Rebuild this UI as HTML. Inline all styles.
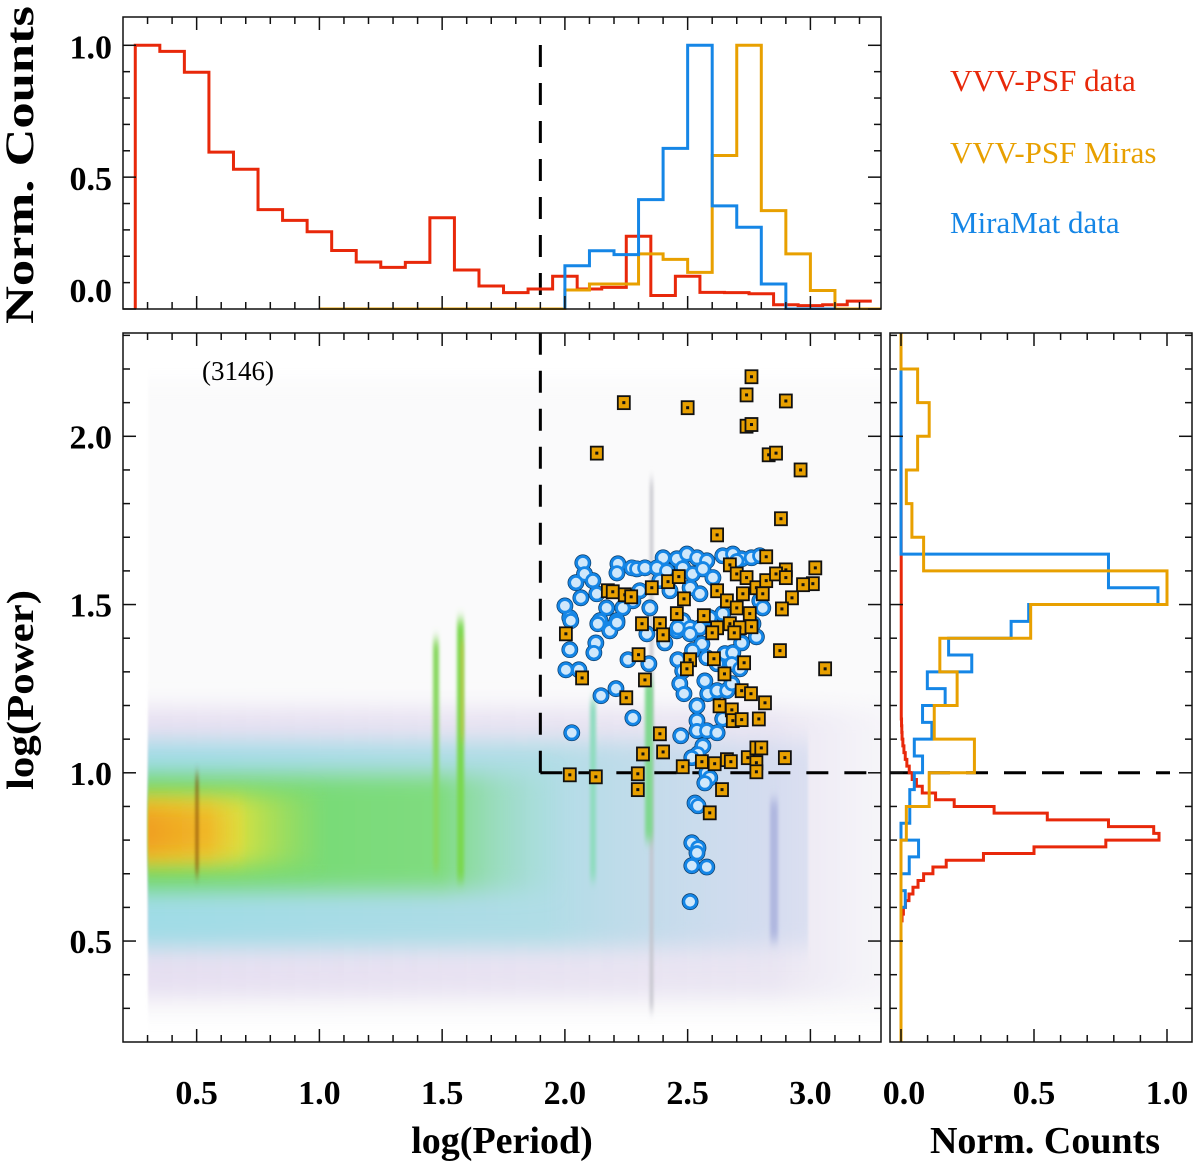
<!DOCTYPE html>
<html><head><meta charset="utf-8"><style>
html,body{margin:0;padding:0;background:#fff;}
svg{display:block;font-family:"Liberation Serif",serif;font-weight:bold;}
</style></head><body>
<svg id="chart" width="1200" height="1173" viewBox="0 0 1200 1173">
<defs>
<clipPath id="mainClip"><rect x="123" y="333" width="758" height="709"/></clipPath>
<clipPath id="topClip"><rect x="123" y="17" width="758" height="293"/></clipPath>
<clipPath id="rightClip"><rect x="890" y="333" width="302" height="709"/></clipPath>
<filter id="blurV" filterUnits="userSpaceOnUse" x="100" y="300" width="820" height="760"><feGaussianBlur stdDeviation="1 11"/></filter>
<filter id="blurS" filterUnits="userSpaceOnUse" x="100" y="300" width="820" height="760"><feGaussianBlur stdDeviation="1.5 6"/></filter>
<linearGradient id="gLav" x1="0" x2="1" y1="0" y2="0"><stop offset="0" stop-color="#e4dcf0" stop-opacity="0.9"/><stop offset="0.85" stop-color="#e6e0f0" stop-opacity="0.8"/><stop offset="1" stop-color="#ece8f4" stop-opacity="0.3"/></linearGradient>
<linearGradient id="gCyan" x1="0" x2="1" y1="0" y2="0"><stop offset="0" stop-color="#a0dce6"/><stop offset="0.6" stop-color="#b0dde6"/><stop offset="1" stop-color="#c8d4ee" stop-opacity="0.5"/></linearGradient>
<linearGradient id="gGreen" x1="0" x2="1" y1="0" y2="0"><stop offset="0" stop-color="#6ed86a"/><stop offset="0.7" stop-color="#80dc80"/><stop offset="1" stop-color="#98dcc8" stop-opacity="0"/></linearGradient>
<linearGradient id="gYel" x1="0" x2="1" y1="0" y2="0"><stop offset="0" stop-color="#e8d830"/><stop offset="0.5" stop-color="#d8e040"/><stop offset="1" stop-color="#b0e050" stop-opacity="0"/></linearGradient>
<linearGradient id="gOr" x1="0" x2="1" y1="0" y2="0"><stop offset="0" stop-color="#f0a020"/><stop offset="0.6" stop-color="#f0b828"/><stop offset="1" stop-color="#f0c830" stop-opacity="0"/></linearGradient>
</defs>
<g id="density" clip-path="url(#mainClip)">
  <rect x="148" y="380" width="735" height="640" fill="#fafafb" filter="url(#blurV)"/>
  <rect x="148" y="708" width="735" height="290" fill="url(#gLav)" filter="url(#blurV)"/>
  <rect x="148" y="742" width="660" height="205" fill="url(#gCyan)" filter="url(#blurV)"/>
  <rect x="148" y="775" width="420" height="115" fill="url(#gGreen)" filter="url(#blurV)"/>
  <rect x="148" y="795" width="180" height="70" fill="url(#gYel)" filter="url(#blurV)"/>
  <rect x="148" y="805" width="100" height="52" fill="url(#gOr)" filter="url(#blurV)"/>
  <rect x="196" y="775" width="2" height="100" fill="#7a4010" filter="url(#blurS)"/>
  <rect x="433" y="640" width="6" height="230" fill="#88d860" filter="url(#blurS)"/>
  <rect x="457" y="620" width="7" height="260" fill="#7ad850" filter="url(#blurS)"/>
  <rect x="461" y="640" width="2" height="100" fill="#d0c040" filter="url(#blurS)"/>
  <rect x="650" y="480" width="3" height="530" fill="#c0c0c8" filter="url(#blurS)"/>
  <rect x="590" y="700" width="6" height="180" fill="#90dcc0" filter="url(#blurS)"/>
  <rect x="645" y="680" width="8" height="160" fill="#80d890" filter="url(#blurS)"/>
  <rect x="770" y="800" width="8" height="140" fill="#b0b8e0" filter="url(#blurS)"/>
</g>
<g id="dashes" stroke="#000" stroke-width="3" stroke-dasharray="22,16" fill="none"></g>
<g id="topSeries" clip-path="url(#topClip)"></g>
<g id="rightSeries" clip-path="url(#rightClip)"></g>
<g id="series"></g>
<g id="frames" fill="none" stroke="#111" stroke-width="1.5">
  <rect x="123" y="17" width="758" height="292"/>
  <rect x="123" y="333" width="758" height="709"/>
  <rect x="890" y="333" width="302" height="709"/>
</g>
<g id="ticks" stroke="#111" stroke-width="1.5"></g>
<g id="labels" font-size="34" fill="#000"></g>
<text x="502" y="1153" text-anchor="middle" font-size="38">log(Period)</text>
<text x="1045" y="1153" text-anchor="middle" font-size="38">Norm. Counts</text>
<text transform="translate(33,690) rotate(-90)" text-anchor="middle" font-size="38" textLength="200" lengthAdjust="spacingAndGlyphs">log(Power)</text>
<text transform="translate(33,165) rotate(-90)" text-anchor="middle" font-size="40" textLength="318" lengthAdjust="spacingAndGlyphs">Norm. Counts</text>
<text x="238" y="380" text-anchor="middle" font-size="27" font-weight="normal">(3146)</text>
<text x="950" y="91" font-size="31" font-weight="normal" fill="#e8280a">VVV-PSF data</text>
<text x="950" y="163" font-size="31" font-weight="normal" fill="#e8a000">VVV-PSF Miras</text>
<text x="950" y="233" font-size="31" font-weight="normal" fill="#1586e6">MiraMat data</text>
</svg>
<script>
// ---- data ----
const topRedStart = 0.25, topRedValues = [1.0,0.977,0.898,0.595,0.530,0.377,0.336,0.293,0.222,0.178,0.158,0.177,0.346,0.148,0.087,0.062,0.076,0.124,0.076,0.082,0.276,0.051,0.124,0.063,0.062,0.058,0.016,0.013,0.016,0.030];
const topBlueStart = 2.0, topBlueValues = [0.164,0.221,0.206,0.415,0.609,1.0,0.391,0.31,0.095,0,0];
const topOrangeStart = 1.0, topOrangeValues = [0,0,0,0,0,0,0,0,0,0,0.072,0.095,0.095,0.209,0.188,0.139,0.582,1.0,0.373,0.209,0.07,0,0,0];
const binWidthTop = 0.1;
const rightRedStart = 0.56, rightRedBin = 0.02;
const rightRedValues = [0.004,0.009,0.017,0.03,0.045,0.064,0.085,0.12,0.17,0.31,0.5,0.77,0.97,0.95,0.78,0.55,0.35,0.2,0.13,0.08,0.058,0.042,0.031,0.022,0.016,0.011,0.007,0.004,0.003,0.002,0.001,0.001,0.001,0.001,0.001,0.001,0.001,0.001,0.001,0.001,0.001,0.001];
const rightBlueStart = 0.2, rightBlueBin = 0.05;
const rightBlueValues = [0,0,0,0,0,0,0,0,0.016,0,0.031,0.066,0,0.033,0.033,0.05,0.081,0.05,0.116,0.081,0.166,0.099,0.266,0.179,0.414,0.48,0.966,0.78,0.78,0,0,0,0,0,0,0,0,0,0,0];
const rightOrangeStart = 0.2, rightOrangeBin = 0.1;
const rightOrangeValues = [0,0,0,0,0,0,0.02,0.106,0.276,0.125,0.211,0.146,0.4875,1.0,0.085,0.041,0.02,0.0625,0.106,0.0625,0.0,0.0];
const xTicks = ["0.5","1.0","1.5","2.0","2.5","3.0"];
const yTicks = ["0.5","1.0","1.5","2.0"];
const topYTicks = ["0.0","0.5","1.0"];
const rightXTicks = ["0.0","0.5","1.0"];
const periodCut = 1.9, powerCut = 1.0;
const blueX = [2.073,2.08,2.114,2.045,2.065,2.216,2.212,2.273,2.293,2.326,2.40,2.456,2.497,2.538,2.578,2.643,2.684,2.72,2.76,2.794,2.375,2.415,2.48,2.52,2.562,2.603,2.387,2.428,2.51,2.55,2.305,2.277,2.236,2.13,2.17,2.143,2.212,2.183,2.0,2.02,2.346,2.48,2.51,2.456,2.55,2.59,2.70,2.794,2.806,2.766,2.643,
2.024,2.134,2.183,2.212,2.02,2.126,2.118,2.004,2.057,2.257,2.342,2.147,2.208,2.277,2.028,2.472,2.334,2.407,2.46,2.51,2.558,2.52,2.46,2.48,2.468,2.485,2.578,2.652,2.684,2.72,2.78,2.62,2.68,2.713,2.57,2.582,2.62,2.66,2.68,2.538,2.643,2.538,2.538,2.578,2.62,2.562,2.542,2.517,2.578,2.59,2.57,2.53,2.542,2.517,2.542,2.538,2.517,2.578,2.51];
const blueY = [1.624,1.591,1.571,1.565,1.52,1.621,1.594,1.609,1.606,1.609,1.639,1.636,1.65,1.639,1.63,1.645,1.65,1.636,1.639,1.645,1.609,1.60,1.609,1.591,1.606,1.58,1.571,1.541,1.55,1.532,1.541,1.511,1.49,1.532,1.49,1.452,1.452,1.428,1.496,1.461,1.49,1.452,1.431,1.422,1.431,1.461,1.63,1.511,1.49,1.443,1.473,
1.452,1.443,1.422,1.446,1.366,1.386,1.357,1.306,1.306,1.336,1.324,1.229,1.25,1.163,1.119,1.11,1.413,1.386,1.431,1.413,1.383,1.363,1.336,1.303,1.265,1.235,1.342,1.354,1.357,1.386,1.404,1.324,1.324,1.309,1.273,1.235,1.244,1.244,1.265,1.199,1.16,1.155,1.125,1.125,1.119,1.08,1.056,1.045,1.0,0.985,0.97,0.91,0.902,0.792,0.777,0.762,0.724,0.72,0.617];
const miraX = [2.76,2.74,2.90,2.24,2.50,2.74,2.76,2.13,2.83,2.86,2.96,2.88,2.62,2.82,3.02,2.90,3.01,2.97,2.175,2.195,2.244,2.27,2.354,2.42,2.464,2.485,2.672,2.62,2.925,2.884,2.456,2.566,2.314,2.387,2.004,2.70,2.74,2.78,2.82,2.86,2.90,2.66,2.70,2.725,2.753,2.672,2.713,2.62,2.806,
2.40,2.60,2.69,2.76,2.876,3.06,2.30,2.07,2.326,2.51,2.497,2.607,2.73,2.65,2.25,2.72,2.758,2.815,2.63,2.68,2.684,2.72,2.79,2.387,2.318,2.40,2.48,2.558,2.61,2.66,2.676,2.745,2.78,2.80,2.78,2.78,2.896,2.02,2.126,2.297,2.297,2.64,2.59];
const miraY = [2.177,2.123,2.105,2.10,2.085,2.03,2.035,1.95,1.945,1.95,1.90,1.755,1.707,1.642,1.609,1.603,1.562,1.559,1.541,1.538,1.529,1.523,1.55,1.568,1.583,1.517,1.618,1.541,1.52,1.487,1.473,1.467,1.443,1.443,1.413,1.591,1.58,1.55,1.571,1.591,1.58,1.511,1.49,1.532,1.473,1.443,1.431,1.431,1.532,
1.41,1.416,1.416,1.434,1.363,1.309,1.351,1.282,1.276,1.336,1.309,1.339,1.327,1.294,1.223,1.244,1.235,1.208,1.199,1.187,1.155,1.158,1.16,1.116,1.056,1.062,1.018,1.033,1.027,1.039,1.033,1.045,1.074,1.074,1.03,1.003,1.045,0.994,0.988,0.997,0.95,0.95,0.881];

// ---- scales ----
const X = v => 123 + (v - 0.2) * 245.5;
const Y = v => 1042 - (v - 0.2) * 336.5;
const TY = v => 309 - v * 263.7;
const RX = v => 901 + v * 266;
const NS = "http://www.w3.org/2000/svg";
function mk(tag, parent, attrs) {
  const e = document.createElementNS(NS, tag);
  for (const k in attrs) e.setAttribute(k, attrs[k]);
  parent.appendChild(e);
  return e;
}
const series = document.getElementById('series');
const topG = document.getElementById('topSeries');
const rightG = document.getElementById('rightSeries');
const RED = "#e8280a", ORANGE = "#e8a000", BLUE = "#1586e6";

function topStep(start, vals, color, name) {
  let d = `M${X(start)},${TY(0)}`;
  vals.forEach((v, i) => {
    const x0 = X(start + i * binWidthTop), x1 = X(start + (i + 1) * binWidthTop);
    d += ` L${x0},${TY(v)} L${x1},${TY(v)}`;
  });
  const p = mk('path', topG, {d: d, fill: 'none', stroke: color, 'stroke-width': 3});
  
  
}
function rightStep(start, bin, vals, color, name, top) {
  let d = `M${RX(0)},${Y(start)}`;
  vals.forEach((v, i) => {
    const y0 = Y(start + i * bin), y1 = Y(start + (i + 1) * bin);
    d += ` L${RX(v)},${y0} L${RX(v)},${y1}`;
  });
  if (top) d += ` L${RX(0)},${Y(top)}`;
  const p = mk('path', rightG, {d: d, fill: 'none', stroke: color, 'stroke-width': 3});
  
  
}
topStep(topRedStart, topRedValues, RED, 'top-hist-vvv-psf-data');
topStep(topOrangeStart, topOrangeValues, ORANGE, 'top-hist-vvv-psf-miras');
topStep(topBlueStart, topBlueValues, BLUE, 'top-hist-miramat-data');
rightStep(rightRedStart, rightRedBin, rightRedValues, RED, 'right-hist-vvv-psf-data', 2.306);
rightStep(rightBlueStart, rightBlueBin, rightBlueValues, BLUE, 'right-hist-miramat-data', 2.2);
rightStep(rightOrangeStart, rightOrangeBin, rightOrangeValues, ORANGE, 'right-hist-vvv-psf-miras', 2.306);

// dashed threshold lines
const dg = document.getElementById('dashes');
let l;
l = mk('line', dg, {x1: X(periodCut), y1: Y(powerCut), x2: X(periodCut), y2: 333});


l = mk('line', dg, {x1: X(periodCut), y1: 45, x2: X(periodCut), y2: 309});


l = mk('line', dg, {x1: X(periodCut), y1: Y(powerCut), x2: 881, y2: Y(powerCut)});


l = mk('line', dg, {x1: 890, y1: Y(powerCut), x2: 1170, y2: Y(powerCut)});



// scatter
const pg = mk('g', series, {});


blueX.forEach((x, i) => {
  const c = mk('circle', pg, {cx: X(x), cy: Y(blueY[i]), r: 6.3, fill: '#d0e8fb', stroke: '#0a3a66', 'stroke-width': 4.2});
  
  
});
blueX.forEach((x, i) => {
  const c = mk('circle', pg, {cx: X(x), cy: Y(blueY[i]), r: 6.3, fill: '#d0e8fb', stroke: BLUE, 'stroke-width': 2.8});
  
  
});
const og = mk('g', series, {});


miraX.forEach((x, i) => {
  const cx = X(x), cy = Y(miraY[i]);
  const r = mk('rect', og, {x: cx - 6, y: cy - 6.5, width: 12, height: 13, fill: ORANGE, stroke: '#111', 'stroke-width': 1.8});
  
  
  const d = mk('rect', og, {x: cx - 1.5, y: cy - 1.5, width: 3, height: 3, fill: '#111'});
  
  
});

// ticks
const tg = document.getElementById('ticks');
function tick(x1, y1, x2, y2) { mk('line', tg, {x1, y1, x2, y2}); }
for (let k = 3; k <= 32; k++) {
  const v = k / 10, x = X(v), maj = (k % 5 === 0), L = maj ? 13 : 7;
  tick(x, 1042, x, 1042 - L); tick(x, 333, x, 333 + L);
  tick(x, 309, x, 309 - L); tick(x, 17, x, 17 + L);
}
for (let k = 3; k <= 23; k++) {
  const v = k / 10, y = Y(v), maj = (k % 5 === 0), L = maj ? 13 : 7;
  tick(123, y, 123 + L, y); tick(881, y, 881 - L, y);
  tick(890, y, 890 + L, y); tick(1192, y, 1192 - L, y);
}
for (let k = 0; k <= 10; k++) {
  const v = k / 10, y = TY(v), maj = (k % 5 === 0), L = maj ? 13 : 7;
  tick(123, y, 123 + L, y); tick(881, y, 881 - L, y);
  const x = RX(v);
  tick(x, 1042, x, 1042 - L); tick(x, 333, x, 333 + L);
}
// tick labels
const lg = document.getElementById('labels');
function lab(txt, x, y, anchor, name) {
  const t = mk('text', lg, {x, y, 'text-anchor': anchor});
  t.textContent = txt;
  
  
}
xTicks.forEach(s => lab(s, X(parseFloat(s)), 1104, 'middle', 'x-tick-label'));
yTicks.forEach(s => lab(s, 112, Y(parseFloat(s)) + 12, 'end', 'y-tick-label'));
topYTicks.forEach(s => { const v = parseFloat(s); lab(s, 112, (v === 0 ? 302 : TY(v) + 13), 'end', 'top-y-tick-label'); });
rightXTicks.forEach(s => { const v = parseFloat(s); lab(s, v === 0 ? 904 : RX(v), 1104, 'middle', 'right-x-tick-label'); });
</script>
</body></html>
